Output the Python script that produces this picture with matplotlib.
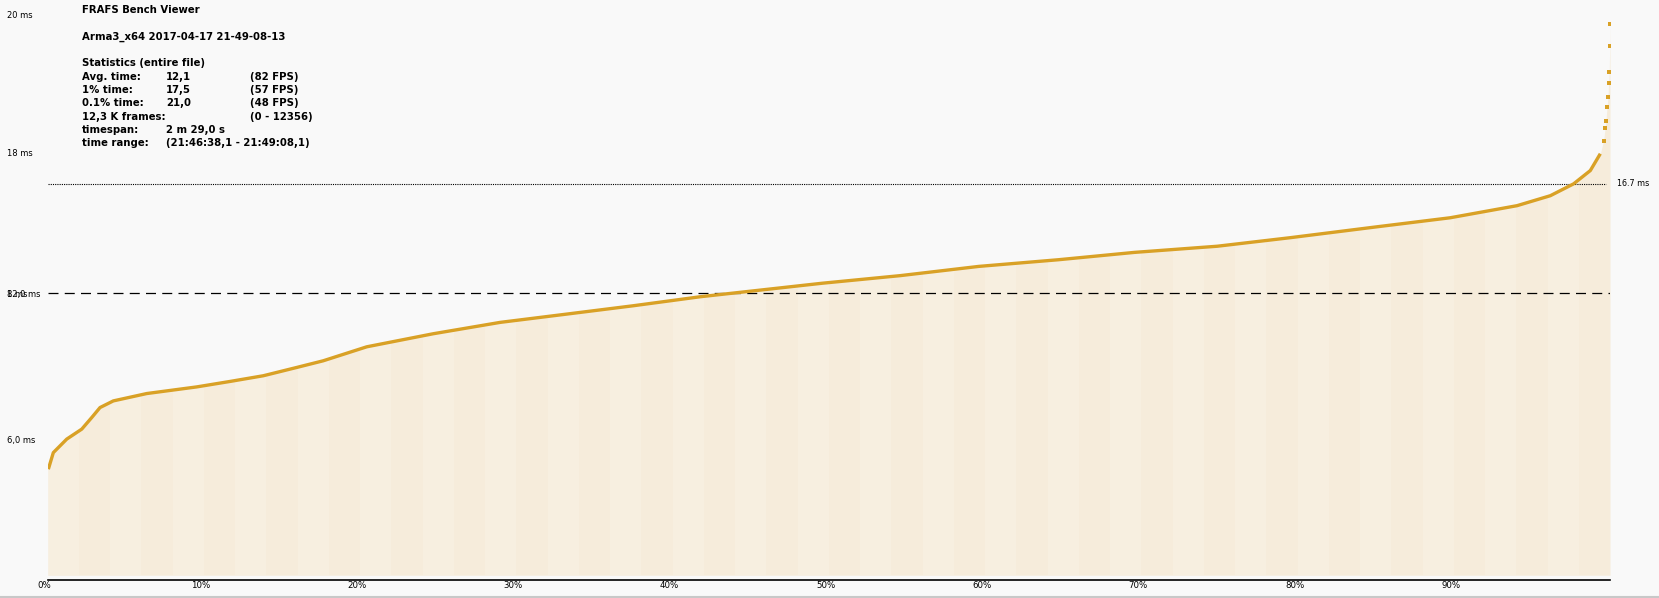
import matplotlib
matplotlib.use('Agg')
import matplotlib.pyplot as plt
import matplotlib.transforms as mtransforms
from matplotlib.lines import Line2D

# sorted frame times (percentile of frames vs. frame time in ms)
pct = [0.04, 0.36, 1.22, 2.18, 2.82, 3.35, 4.20, 6.34, 9.54, 11.67, 13.80,
       15.94, 17.63, 20.42, 24.67, 28.96, 33.23, 37.47, 41.76, 49.57, 54.56,
       59.60, 64.68, 69.55, 74.86, 79.53, 84.97, 89.77, 94.05, 96.18, 97.67,
       98.74, 99.38]
ms = [4.67, 5.37, 5.94, 6.36, 6.85, 7.27, 7.55, 7.86, 8.14, 8.37, 8.61,
      8.96, 9.24, 9.83, 10.38, 10.86, 11.21, 11.56, 11.94, 12.51, 12.83,
      13.22, 13.50, 13.81, 14.07, 14.43, 14.88, 15.27, 15.78, 16.20, 16.70,
      17.26, 17.97]
# slowest frames, drawn as single dots
tail_pct = [99.59, 99.69, 99.74, 99.81, 99.87, 99.91, 99.95, 99.98, 100.0]
tail_ms = [18.52, 19.07, 19.36, 19.92, 20.35, 20.94, 21.40, 22.50, 23.45]

avg_ms = 12.1
fps60_ms = 16.7
x_ticks = [0, 10, 20, 30, 40, 50, 60, 70, 80, 90]
y_labels = [('20 ms', 23.8), ('18 ms', 18.0), ('8 ms', 12.05), ('12,0 ms', 12.05), ('6,0 ms', 5.9)]

stats_rows = [('Avg. time:', '12,1', '(82 FPS)'),
              ('1% time:', '17,5', '(57 FPS)'),
              ('0.1% time:', '21,0', '(48 FPS)'),
              ('12,3 K frames:', '', '(0 - 12356)'),
              ('timespan:', '2 m 29,0 s', ''),
              ('time range:', '(21:46:38,1 - 21:49:08,1)', '')]

W, H = 1659, 598
gold = '#d9a126'
fill_col = '#f6ecdb'

fig = plt.figure(figsize=(W / 100, H / 100), dpi=100, facecolor='#f9f9f9')
x0, x1 = 47.7, 1610.0
ax = fig.add_axes([x0 / W, 18 / H, (x1 - x0) / W, (H - 18) / H])
ax.set_facecolor('none')
ax.set_xlim(0, 100)
ax.set_ylim(0, 24.45)

all_x = pct + tail_pct
all_y = ms + tail_ms
poly = ax.fill_between([0] + all_x, 0.2, [ms[0]] + all_y, color=fill_col, lw=0, zorder=1)
# faint vertical striping inside the fill
clip = poly.get_paths()[0]
for i in range(0, 100, 4):
    band = ax.axvspan(i, i + 2, ymin=0, ymax=1, color='white', alpha=0.16, lw=0, zorder=1.1)
    band.set_clip_path(clip, ax.transData)

ax.plot(pct, ms, color=gold, lw=2.4, solid_capstyle='butt', solid_joinstyle='round', zorder=3)
ax.plot(tail_pct, tail_ms, 's', color=gold, ms=2.3, mew=0, zorder=3)

ax.axhline(avg_ms, color='black', lw=0.9, ls=(0, (8, 5)), zorder=2)
ax.plot([0, 99.75], [fps60_ms, fps60_ms], color='black', lw=0.8, ls=(0, (1, 1)), zorder=2)
ax.text(100.45, fps60_ms, '16.7 ms', fontsize=5.8, va='center', ha='left')

for s in ['top', 'right', 'left']:
    ax.spines[s].set_visible(False)
ax.spines['bottom'].set_linewidth(1.2)
ax.set_yticks([])
ax.set_xticks(x_ticks)
ax.set_xticklabels([])
ax.tick_params(axis='x', direction='in', length=0)
blend = mtransforms.blended_transform_factory(ax.transData, ax.transAxes)
for t in x_ticks:
    tr = mtransforms.offset_copy(blend, fig=fig, x=-3, y=-6, units='dots')
    ax.text(t, 0, '{}%'.format(t), transform=tr, fontsize=6.2, ha='center', va='center')

# y labels, placed at left edge of figure
ylab_tr = mtransforms.blended_transform_factory(fig.transFigure, ax.transData)
for lab, v in y_labels:
    ax.text(7 / W, v, lab, transform=ylab_tr, fontsize=6.0, ha='left', va='center')

# statistics block
def ftext(px, py, s):
    fig.text(px / W, 1 - py / H, s, fontsize=7.3, fontweight='bold', ha='left', va='center')

ftext(81.5, 10, 'FRAFS Bench Viewer')
ftext(81.5, 37, 'Arma3_x64 2017-04-17 21-49-08-13')
ftext(81.5, 63, 'Statistics (entire file)')
for i, (a, b, c) in enumerate(stats_rows):
    py = 76.5 + i * 13.4
    ftext(81.5, py, a)
    if b:
        ftext(166, py, b)
    if c:
        ftext(249.5, py, c)

fig.add_artist(Line2D([0, 1], [1.5 / H, 1.5 / H], color='#c8c8c8', lw=1.5))

plt.savefig('out.png', dpi=100, facecolor=fig.get_facecolor())
